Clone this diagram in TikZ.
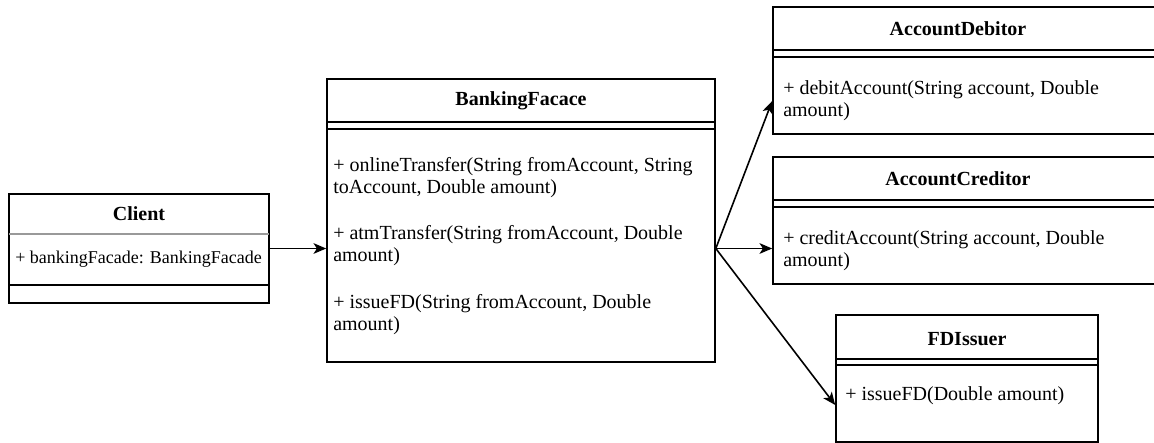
\documentclass[tikz,border=0pt]{standalone}
\usepackage{fontspec}
\setmainfont{Liberation Serif}
\usetikzlibrary{arrows.meta,fit}
\begin{document}
\begin{tikzpicture}[x=0.75pt,y=-0.75pt,
  classbox/.style={draw, line width=1.2pt, inner sep=0pt},
  rule/.style={line width=1.2pt},
  softrule/.style={line width=0.9pt, draw=black!40},
  title/.style={font=\fontsize{15}{16.5}\selectfont\bfseries},
  member/.style={anchor=west, align=left, inner sep=0pt, font=\fontsize{15}{16.5}\selectfont},
  arr/.style={line width=1.2pt, -{Stealth[length=9.5pt,width=8pt,inset=2.5pt]}}]
\useasboundingbox (0,0) rectangle (1154,443);
\clip (0,0) rectangle (1154,443);

% class boxes
\node[classbox, fit={(9,194) (269,303)}] (client) {};
\node[classbox, fit={(327,79) (715,362)}] (facade) {};
\node[classbox, fit={(773,7) (1160,134)}] (debitor) {};
\node[classbox, fit={(773,157) (1160,284)}] (creditor) {};
\node[classbox, fit={(836,315) (1098,442)}] (issuer) {};

% compartment dividers
\draw[softrule] (9,234) -- (269,234);
\draw[rule] (9,285) -- (269,285);
\draw[rule] (327,122) -- (715,122);
\draw[rule] (327,129) -- (715,129);
\draw[rule] (773,50) -- (1160,50);
\draw[rule] (773,57) -- (1160,57);
\draw[rule] (773,200) -- (1160,200);
\draw[rule] (773,207) -- (1160,207);
\draw[rule] (836,359) -- (1098,359);
\draw[rule] (836,365) -- (1098,365);

% titles
\node[title] (clientT) at (139,214) {Client};
\node[title] (facadeT) at (521,101) {BankingFacace};
\node[title] (debitorT) at (958,29) {AccountDebitor};
\node[title] (creditorT) at (958,179) {AccountCreditor};
\node[title] (issuerT) at (967,339) {FDIssuer};

% members
\node[member, font=\fontsize{13.5}{16}\selectfont] (clientA) at (15,259) {+ bankingFacade: BankingFacade};
\node[member] (m1) at (333,178) {+ onlineTransfer(String fromAccount, String\\toAccount, Double amount)};
\node[member] (m2) at (333,246) {+ atmTransfer(String fromAccount, Double\\amount)};
\node[member] (m3) at (333,315) {+ issueFD(String fromAccount, Double\\amount)};
\node[member] (d1) at (783,101) {+ debitAccount(String account, Double\\amount)};
\node[member] (c1) at (783,251) {+ creditAccount(String account, Double\\amount)};
\node[member] (i1) at (845,396) {+ issueFD(Double amount)};

% connectors
\coordinate (rowD) at (0,101);
\coordinate (rowI) at (0,405);
\coordinate (hub) at (facade.east |- client.east);
\coordinate (toDebitor) at (debitor.west |- rowD);
\coordinate (toIssuer) at (issuer.west |- rowI);
\draw[arr] (client.east) -- (client.east -| facade.west);
\draw[arr] (hub) -- (toDebitor);
\draw[arr] (hub) -- (hub -| creditor.west);
\draw[arr] (hub) -- (toIssuer);
\end{tikzpicture}
\end{document}
